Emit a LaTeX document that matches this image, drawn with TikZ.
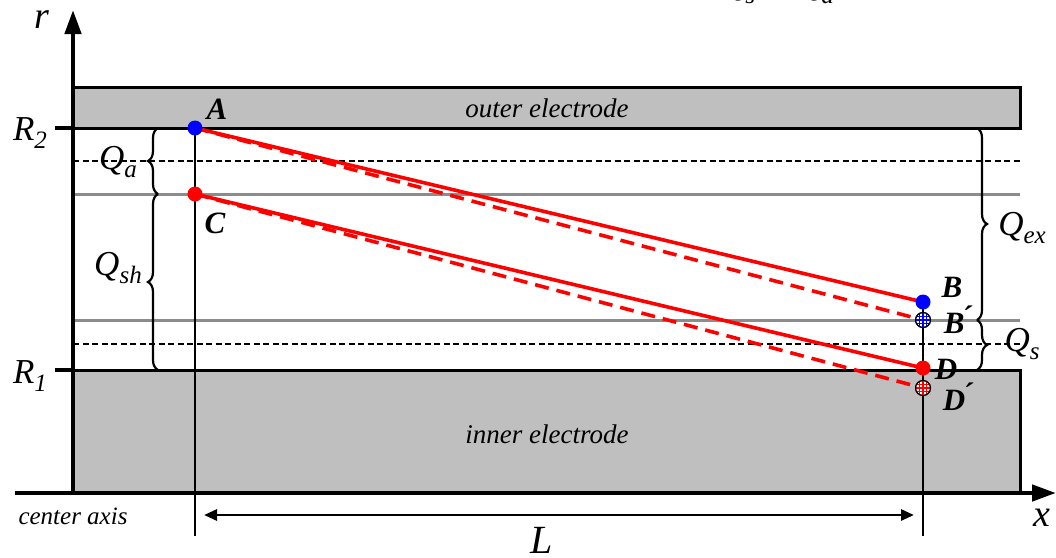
\documentclass[tikz,border=0pt]{standalone}
\usepackage{fontspec}
\setmainfont{Liberation Serif}
\usetikzlibrary{arrows.meta,decorations.pathreplacing}
\newcommand{\lsub}[1]{\raisebox{-0.5ex}{\fontsize{25}{25}\selectfont #1}}
\begin{document}
\begin{tikzpicture}[x=1pt,y=-1pt,
  electrode/.style={draw=black,line width=3pt,fill=black!25},
  axisline/.style={line width=4.5pt,-{Triangle[length=24pt,width=16pt]}},
  guide/.style={draw=black!45,line width=3pt},
  dashguide/.style={draw=black,line width=1.3pt,dash pattern=on 6pt off 3.5pt},
  vline/.style={draw=black,line width=2.2pt},
  flow/.style={draw=red,line width=3.6pt},
  flowdash/.style={draw=red,line width=3.6pt,dash pattern=on 14pt off 8pt},
  bdot/.style={circle,fill=blue,inner sep=0pt,minimum size=15pt},
  rdot/.style={circle,fill=red,inner sep=0pt,minimum size=15pt},
  ptlabel/.style={font=\fontsize{31}{31}\selectfont\bfseries\itshape,inner sep=1pt},
  qlabel/.style={font=\fontsize{35}{35}\selectfont\itshape,inner sep=1pt},
  elabel/.style={font=\fontsize{27}{27}\selectfont\itshape},
  brc/.style={draw=black,line width=2.2pt,decorate,decoration={brace,amplitude=10pt}},
  tick/.style={line width=4.5pt}
]
\useasboundingbox (0,0) rectangle (1056,557);

% clipped title fragment
\node[qlabel,anchor=base] (title) at (777,-5) {Q\lsub{s} = Q\lsub{a}};

% electrodes
\draw[electrode] (73,87) rectangle (1020,128);
\draw[electrode] (73,370) rectangle (1020,493);
\node[elabel] (outer) at (547,108) {outer electrode};
\node[elabel] (inner) at (547,434) {inner electrode};

% guide lines
\draw[dashguide] (73,161) -- (1020,161);
\draw[dashguide] (73,344) -- (1020,344);
\draw[guide] (73,194) -- (1020,194);
\draw[guide] (73,320) -- (1020,320);

% axes
\coordinate (o) at (73,493);
\coordinate (rtop) at (73,10);
\coordinate (xl) at (15,493);
\coordinate (xr) at (1056,493);
\draw[axisline] (o) -- (rtop);
\draw[axisline] (xl) -- (xr);
\node[font=\fontsize{38}{38}\selectfont\itshape] (rlab) at (42,20) {r};
\node[font=\fontsize{38}{38}\selectfont\itshape] (xlab) at (1042,518) {x};
\node[font=\fontsize{25}{25}\selectfont\itshape] (cax) at (73,516) {center axis};

% R ticks
\coordinate (r2a) at (55,128); \coordinate (r2b) at (73,128);
\coordinate (r1a) at (55,370); \coordinate (r1b) at (73,370);
\draw[tick] (r2a) -- (r2b);
\draw[tick] (r1a) -- (r1b);
\node[qlabel] (R2) at (30,133) {R\lsub{2}};
\node[qlabel] (R1) at (30,376) {R\lsub{1}};

% points
\coordinate (A) at (195,128);
\coordinate (C) at (195,194);
\coordinate (B) at (923,302);
\coordinate (Bp) at (923,320);
\coordinate (D) at (923,368);
\coordinate (Dp) at (923,388);
\coordinate (Alow) at (195,536);
\coordinate (Blow) at (923,536);

\draw[vline] (A) -- (Alow);
\draw[vline] (B) -- (Blow);

\draw[flowdash] (A) -- (Bp);
\draw[flowdash] (C) -- (Dp);
\draw[flow] (A) -- (B);
\draw[flow] (C) -- (D);

\node[bdot] (nA) at (A) {};
\node[rdot] (nC) at (C) {};
\node[bdot] (nB) at (B) {};
\node[rdot] (nD) at (D) {};
\node[circle,draw=blue,fill=white,line width=1pt,inner sep=0pt,minimum size=15pt] (nBp) at (Bp) {};
\draw[blue,line width=1.2pt] ([xshift=-7pt]Bp) -- ([xshift=7pt]Bp) ([yshift=-7pt]Bp) -- ([yshift=7pt]Bp)
  ([xshift=-3.5pt,yshift=-6pt]Bp) -- ([xshift=-3.5pt,yshift=6pt]Bp) ([xshift=3.5pt,yshift=-6pt]Bp) -- ([xshift=3.5pt,yshift=6pt]Bp)
  ([yshift=-3.5pt,xshift=-6pt]Bp) -- ([yshift=-3.5pt,xshift=6pt]Bp) ([yshift=3.5pt,xshift=-6pt]Bp) -- ([yshift=3.5pt,xshift=6pt]Bp);
\node[circle,draw=black,line width=1.2pt,inner sep=0pt,minimum size=15pt] at (Bp) {};
\node[circle,draw=red,fill=white,line width=1pt,inner sep=0pt,minimum size=15pt] (nDp) at (Dp) {};
\draw[red,line width=1.2pt] ([xshift=-7pt]Dp) -- ([xshift=7pt]Dp) ([yshift=-7pt]Dp) -- ([yshift=7pt]Dp)
  ([xshift=-3.5pt,yshift=-6pt]Dp) -- ([xshift=-3.5pt,yshift=6pt]Dp) ([xshift=3.5pt,yshift=-6pt]Dp) -- ([xshift=3.5pt,yshift=6pt]Dp)
  ([yshift=-3.5pt,xshift=-6pt]Dp) -- ([yshift=-3.5pt,xshift=6pt]Dp) ([yshift=3.5pt,xshift=-6pt]Dp) -- ([yshift=3.5pt,xshift=6pt]Dp);
\node[circle,draw=black,line width=1.2pt,inner sep=0pt,minimum size=15pt] at (Dp) {};

\node[ptlabel] (lA) at (217,109) {A};
\node[ptlabel] (lC) at (215,223) {C};
\node[ptlabel] (lB) at (952,287) {B};
\node[ptlabel] (lBp) at (958,320) {B\'{}};
\node[ptlabel] (lD) at (946,369) {D};
\node[ptlabel] (lDp) at (958,397) {D\'{}};

% braces
\coordinate (qa1) at (158,194); \coordinate (qa2) at (158,128);
\coordinate (qs1) at (158,370); \coordinate (qs2) at (158,194);
\coordinate (qe1) at (977,128); \coordinate (qe2) at (977,320);
\coordinate (qq1) at (977,320); \coordinate (qq2) at (977,370);
\draw[brc] (qa1) -- (qa2);
\draw[brc] (qs1) -- (qs2);
\draw[brc] (qe1) -- (qe2);
\draw[brc] (qq1) -- (qq2);
\node[qlabel] (Qa) at (118,162) {Q\lsub{a}};
\node[qlabel] (Qsh) at (118,268) {Q\lsub{sh}};
\node[qlabel] (Qex) at (1022,228) {Q\lsub{ex}};
\node[qlabel] (Qs) at (1022,344) {Q\lsub{s}};

% length L
\coordinate (L1) at (204,515);
\coordinate (L2) at (914,515);
\draw[line width=2.8pt,{Triangle[length=13pt,width=11pt]}-{Triangle[length=13pt,width=11pt]}] (L1) -- (L2);
\node[font=\fontsize{40}{40}\selectfont\itshape] (Llab) at (542,540) {L};
\end{tikzpicture}
\end{document}
